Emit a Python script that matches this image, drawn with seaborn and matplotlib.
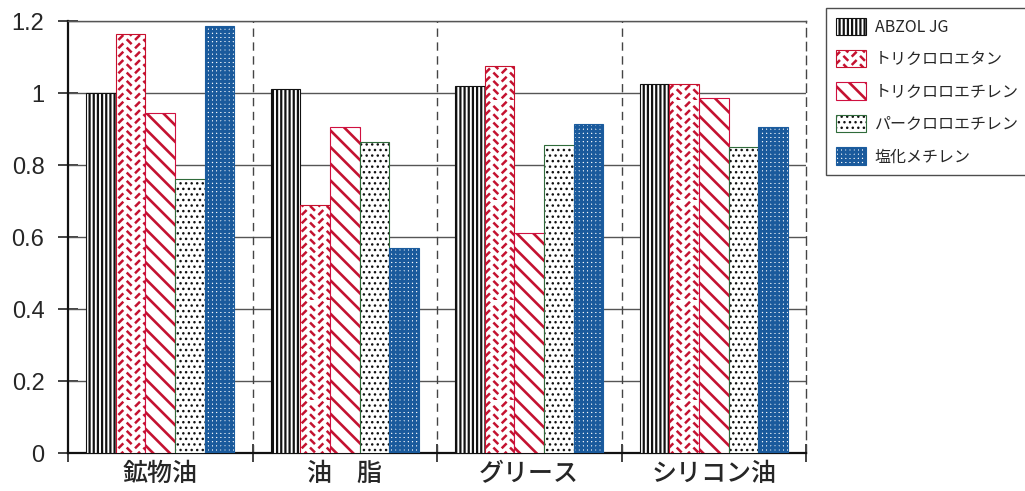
import warnings
import numpy as np
import pandas as pd
import matplotlib
matplotlib.use("Agg")
import matplotlib.pyplot as plt
import matplotlib.colors as mcolors
import matplotlib.hatch as mhatch
from matplotlib.path import Path
import seaborn as sns

warnings.filterwarnings("ignore")

# ---- data -------------------------------------------------------------
categories = ["鉱物油", "油　脂", "グリース", "シリコン油"]
solvents = ["ABZOL JG", "トリクロロエタン", "トリクロロエチレン", "パークロロエチレン", "塩化メチレン"]
abzol = [1.00, 1.01, 1.02, 1.025]
trichloroethane = [1.165, 0.69, 1.075, 1.025]
trichloroethylene = [0.945, 0.905, 0.61, 0.985]
perchloroethylene = [0.76, 0.865, 0.855, 0.85]
methylene_chloride = [1.185, 0.57, 0.915, 0.905]
y_ticks = [0, 0.2, 0.4, 0.6, 0.8, 1.0, 1.2]
y_tick_labels = ["0", "0.2", "0.4", "0.6", "0.8", "1", "1.2"]


# ---- herringbone hatch (short alternating dashes), triggered by 'z' ----
class HerringboneHatch(mhatch.HatchPatternBase):
    def __init__(self, hatch, density):
        self.n = int(hatch.count('z') * density)
        self.num_vertices = self.n * self.n * 2

    def set_vertices_and_codes(self, vertices, codes):
        n = self.n
        step = 1.0 / n
        half = 0.19 * step
        k = 0
        for r in range(n):
            for c in range(n):
                cx = (c + 0.5) * step
                cy = (r + 0.5) * step + (0.5 * step if c % 2 else 0.0)
                if cy > 1.0 - half:
                    cy -= 1.0
                if c % 2 == 0:
                    p0, p1 = (cx - half, cy - half), (cx + half, cy + half)
                else:
                    p0, p1 = (cx - half, cy + half), (cx + half, cy - half)
                vertices[k] = p0
                vertices[k + 1] = p1
                codes[k] = Path.MOVETO
                codes[k + 1] = Path.LINETO
                k += 2


mhatch._hatch_types.append(HerringboneHatch)

# ---- fonts --------------------------------------------------------------
sns.set_theme(style="white")
num_font = "Liberation Sans"
jp_font = "Noto Sans CJK JP"
plt.rcParams["font.family"] = [jp_font, "DejaVu Sans"]
plt.rcParams["hatch.linewidth"] = 1.6

# ---- long-form table ---------------------------------------------------
series = [abzol, trichloroethane, trichloroethylene, perchloroethylene, methylene_chloride]
df = pd.DataFrame({
    "category": np.repeat([categories], len(solvents), axis=0).ravel(),
    "solvent": np.repeat(solvents, len(categories)),
    "value": np.concatenate(series),
})

fig = plt.figure(figsize=(10.25, 4.91), dpi=100)
ax = fig.add_axes([68 / 1025, 1 - 453 / 491, (806 - 68) / 1025, (453 - 21) / 491])

sns.barplot(data=df, x="category", y="value", hue="solvent",
            order=categories, hue_order=solvents, width=0.8,
            ax=ax, legend=False, errorbar=None, saturation=1)

styles = [
    dict(face="white", edge="#111111", hatch="||||", hatch_color="#111111", hlw=1.6),
    dict(face="white", edge="#c8102e", hatch="zz", hatch_color="#c41230", hlw=1.8),
    dict(face="white", edge="#d01040", hatch="\\\\", hatch_color="#c41230", hlw=1.9),
    dict(face="white", edge="#2f6b3a", hatch="...", hatch_color="#111111", hlw=1.0),
    dict(face="white", edge="#1b5c9e", hatch="++++", hatch_color="#1a5a9c", hlw=2.1),
]


def style_patch(p, st):
    p.set_facecolor(st["face"])
    p.set_edgecolor(st["edge"])
    p.set_linewidth(0.8)
    p.set_hatch(st["hatch"])
    p._hatch_color = mcolors.to_rgba(st["hatch_color"])
    if hasattr(p, "set_hatch_linewidth"):
        p.set_hatch_linewidth(st["hlw"])
    else:
        p._hatch_linewidth = st["hlw"]


for cont, st in zip(ax.containers, styles):
    for p in cont:
        style_patch(p, st)
        p.set_zorder(3)

# ---- axes styling ------------------------------------------------------
ax.set_xlim(-0.5, 3.5)
ax.set_ylim(0, 1.2)
ax.set_xlabel("")
ax.set_ylabel("")
ax.set_axisbelow(True)

ax.set_yticks(y_ticks)
ax.set_yticklabels(y_tick_labels, fontfamily=num_font, fontsize=17)
ax.tick_params(axis="y", direction="inout", length=14, width=1.2, color="#222222", pad=10, left=True)

ax.set_xticks(range(len(categories)))
ax.set_xticklabels(categories, fontsize=18, fontweight="medium")
ax.tick_params(axis="x", which="major", length=0, pad=6)
ax.set_xticks([-0.5, 0.5, 1.5, 2.5, 3.5], minor=True)
ax.tick_params(axis="x", which="minor", direction="inout", length=13, width=1.2,
               color="#222222", bottom=True)

for y in y_ticks[1:]:
    ax.axhline(y, color="#555555", lw=1.0, zorder=1)
for x in [0.5, 1.5, 2.5]:
    ax.axvline(x, color="#444444", lw=1.0, ls=(0, (6, 4)), zorder=1)

for side in ["left", "bottom"]:
    ax.spines[side].set_color("#111111")
    ax.spines[side].set_linewidth(1.6)
ax.spines["top"].set_color("#555555")
ax.spines["top"].set_linewidth(1.0)
ax.spines["right"].set_color("#444444")
ax.spines["right"].set_linewidth(1.0)
ax.spines["right"].set_linestyle((0, (6, 4)))

# ---- legend ------------------------------------------------------------
handles = [cont[0] for cont in ax.containers]
leg = fig.legend(handles, solvents, loc="upper left",
                 bbox_to_anchor=(826 / 1025, 1 - 8 / 491),
                 bbox_transform=fig.transFigure, borderaxespad=0,
                 frameon=True, fancybox=False, fontsize=11.5,
                 handlelength=1.9, handleheight=1.3, labelspacing=0.9,
                 handletextpad=0.55, borderpad=0.6)
leg.get_frame().set_edgecolor("#222222")
leg.get_frame().set_linewidth(1.0)
for h, st in zip(leg.legend_handles, styles):
    style_patch(h, st)

fig.savefig("out.png", dpi=100)
